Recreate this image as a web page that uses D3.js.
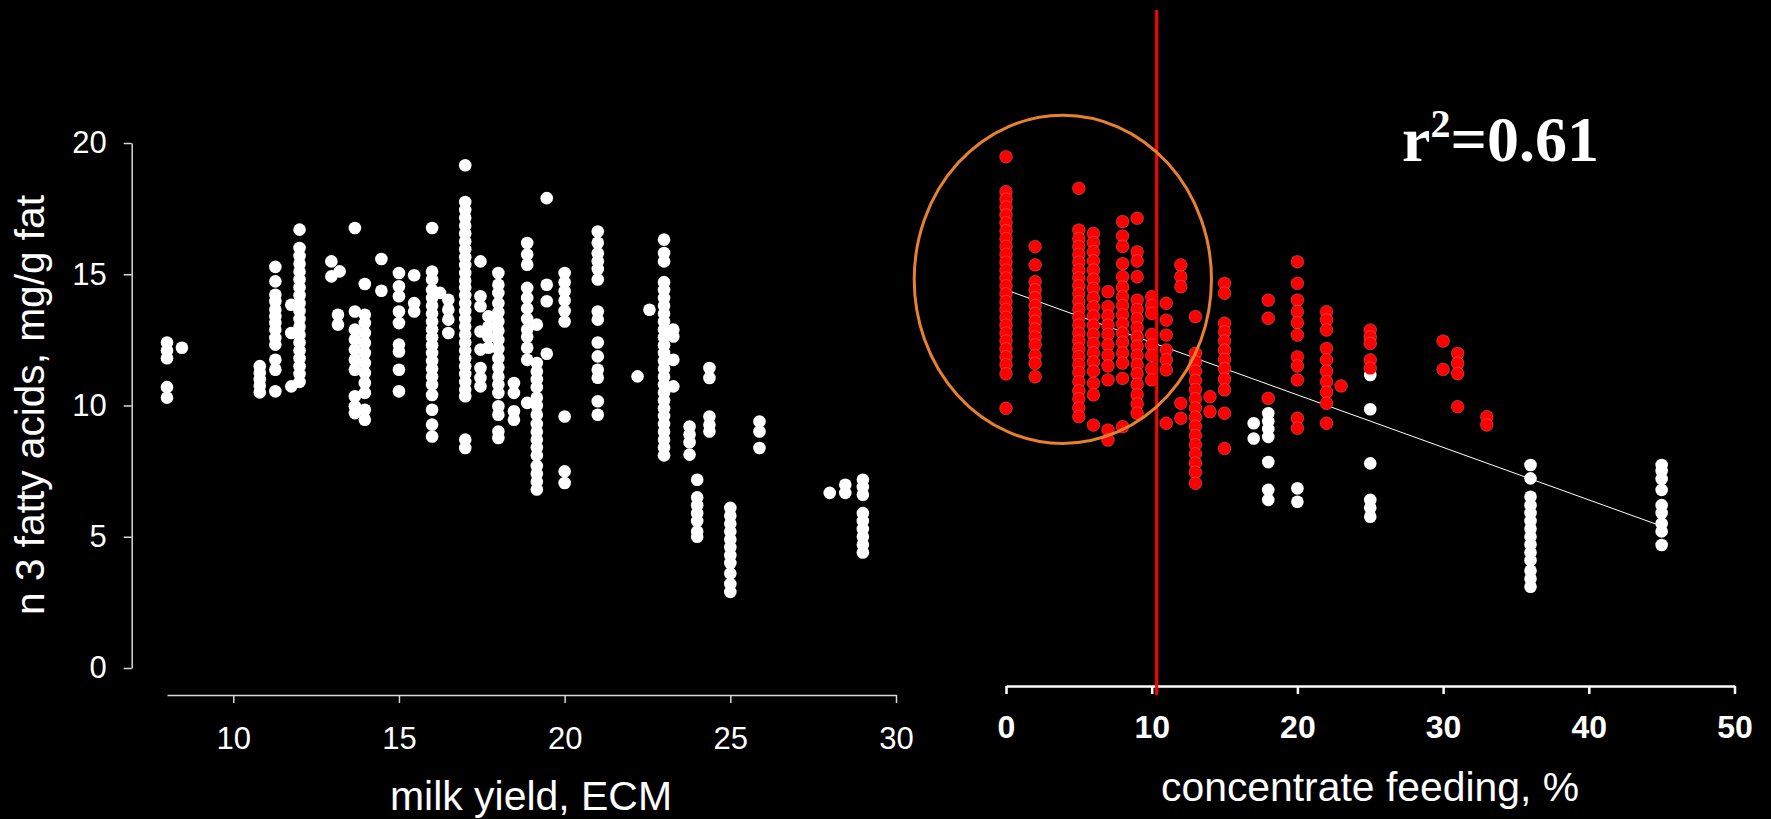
<!DOCTYPE html>
<html>
<head>
<meta charset="utf-8">
<script src="https://cdn.jsdelivr.net/npm/d3@7"></script>
<style>
  html, body { margin: 0; padding: 0; background: #000; }
  svg { display: block; }
</style>
</head>
<body>
<div class="chart"></div>
<script>
// ---- data ----
// left panel: n-3 fatty acids vs milk yield (ECM), one entry per vertical column of dots
var yieldCols = [8, 8.45, 10.8, 11.27, 11.75, 12, 12.96, 13.21, 13.16, 13.67, 13.97, 14.47, 15, 15.46,
  16, 16.24, 16.49, 17, 17.46, 17.7, 18, 18.47, 18.87, 19.16, 19.46, 20, 21, 22.2, 22.56, 23, 23.28,
  23.77, 24, 24.37, 25, 25.88, 28, 28.47, 29];
var yieldN3 = [
  [12.4, 12.1, 11.8, 10.7, 10.3],
  [12.2],
  [11.5, 11.25, 11.0, 10.75, 10.5],
  [15.28, 14.73, 14.22, 13.97, 13.65, 13.4, 13.14, 12.89, 12.57, 12.32, 11.74, 11.36, 10.54],
  [13.84, 12.76, 10.73],
  [16.7, 16.0, 15.7, 15.4, 15.1, 14.8, 14.5, 14.2, 13.9, 13.6, 13.3, 13.0, 12.7, 12.4, 12.1, 11.8, 11.5, 11.2, 10.9],
  [15.49, 14.92],
  [15.11],
  [13.46, 13.08],
  [16.76, 13.58, 12.89, 12.51, 12.13, 11.74, 11.36, 10.35, 9.97, 9.71],
  [14.63, 13.46, 13.14, 12.76, 12.38, 12.0, 11.62, 11.24, 10.86, 10.48, 9.84, 9.46],
  [15.58, 14.37],
  [15.05, 14.54, 14.16, 13.58, 13.14, 12.32, 12.06, 11.36, 10.54],
  [14.96, 13.9, 13.58],
  [16.76, 15.1, 14.8, 14.4, 14.1, 13.8, 13.5, 13.2, 12.9, 12.6, 12.3, 12.0, 11.7, 11.4, 11.1, 10.8, 10.4, 9.84, 9.27, 8.82],
  [14.29],
  [14.03, 13.65, 13.27, 12.76],
  [19.15, 17.75, 17.45, 17.15, 16.85, 16.55, 16.25, 15.95, 15.65, 15.35, 15.05, 14.75, 14.5, 14.2, 13.9, 13.6,
   13.3, 13.0, 12.7, 12.4, 12.1, 11.8, 11.5, 11.2, 10.9, 10.6, 10.35, 8.7, 8.38],
  [15.49, 14.16, 13.78, 12.82, 12.13, 11.43, 11.05, 10.73],
  [13.4, 13.0, 12.6, 12.2],
  [15.05, 14.6, 14.29, 13.9, 13.55, 13.2, 12.85, 12.5, 12.15, 11.8, 11.45, 11.1, 10.8, 10.48, 9.97, 9.65, 9.01, 8.76],
  [10.86, 10.48, 9.78, 9.46],
  [16.19, 15.75, 15.36, 14.48, 14.1, 13.7, 13.3, 12.9, 12.62, 12.2, 11.74, 10.1],
  [13.08, 11.62, 11.3, 11.0, 10.7, 10.3, 10.0, 9.65, 9.3, 9.0, 8.7, 8.4, 8.1, 7.7, 7.4, 7.1, 6.8],
  [17.9, 14.6, 13.97, 11.97],
  [15.05, 14.7, 14.35, 14.0, 13.6, 13.2, 9.58, 7.49, 7.05],
  [16.63, 16.2, 15.8, 15.5, 15.2, 14.8, 13.58, 13.27, 12.4, 11.87, 11.36, 11.06, 10.16, 9.65],
  [11.11],
  [13.65],
  [16.32, 15.81, 15.49, 14.7, 14.4, 14.1, 13.8, 13.5, 13.2, 12.9, 12.6, 12.3, 12.0, 11.7, 11.4, 11.1, 10.8,
   10.5, 10.2, 9.9, 9.6, 9.3, 9.0, 8.7, 8.4, 8.1],
  [12.89, 12.63, 11.74, 10.73],
  [9.2, 8.9, 8.6, 8.13],
  [7.17, 6.5, 6.2, 5.9, 5.6, 5.2, 5.0],
  [11.43, 11.05, 9.58, 9.27, 9.01],
  [6.1, 5.8, 5.5, 5.2, 4.9, 4.6, 4.3, 4.0, 3.6, 3.2, 2.9],
  [9.39, 9.01, 8.38],
  [6.67],
  [6.98, 6.67],
  [7.17, 6.9, 6.6, 5.9, 5.6, 5.3, 5.0, 4.7, 4.4]
];

// right panel: n-3 fatty acids vs concentrate feeding (%), red and white groups
var concRedCols = [0, 2, 5, 6, 7, 8, 9, 10, 11, 12, 13, 14, 15, 18, 20, 22, 23, 25, 30, 31, 33];
var concRedN3 = [
  [19.17, 17.84, 17.55, 17.25, 16.95, 16.65, 16.35, 16.05, 15.75, 15.45, 15.15, 14.85, 14.55, 14.25, 13.95,
   13.65, 13.35, 13.05, 12.75, 12.45, 12.15, 11.85, 11.55, 11.25, 10.9, 9.59],
  [15.75, 15.05, 14.41, 14.1, 13.8, 13.5, 13.2, 12.9, 12.6, 12.3, 12.0, 11.6, 11.3, 10.79],
  [17.97, 16.38, 16.05, 15.75, 15.45, 15.15, 14.85, 14.55, 14.25, 13.95, 13.65, 13.35, 13.05, 12.75, 12.45,
   12.15, 11.85, 11.55, 11.25, 10.95, 10.6, 10.25, 9.95, 9.6, 9.27],
  [16.25, 15.9, 15.55, 15.2, 14.85, 14.5, 14.15, 13.8, 13.45, 13.1, 12.75, 12.4, 12.05, 11.7, 11.35, 11.0, 10.54, 10.1, 8.95],
  [14.03, 13.46, 13.1, 12.75, 12.4, 12.0, 11.6, 11.2, 10.67, 8.76, 8.38],
  [16.7, 16.15, 15.75, 15.1, 14.6, 14.2, 13.84, 13.5, 13.15, 12.8, 12.45, 12.1, 11.7, 11.31, 10.73, 8.89],
  [16.83, 15.55, 15.2, 14.6, 13.71, 13.35, 13.0, 12.65, 12.3, 11.95, 11.6, 11.25, 10.9, 10.5, 10.1, 9.75, 9.4],
  [13.84, 13.5, 13.2, 12.4, 12.0, 11.6, 11.1, 10.67],
  [13.59, 12.95, 12.38, 11.81, 11.43, 11.05, 9.02],
  [15.05, 14.6, 14.22, 9.78, 9.21],
  [13.08, 11.68, 11.35, 11.0, 10.65, 10.3, 9.95, 9.6, 9.25, 8.9, 8.55, 8.2, 7.85, 7.5, 7.15, 6.73],
  [10.03, 9.46],
  [14.35, 13.97, 12.83, 12.5, 12.15, 11.8, 11.45, 11.1, 10.7, 10.29, 9.4, 8.06],
  [13.71, 13.02, 9.97],
  [15.17, 14.35, 13.71, 13.27, 12.85, 12.38, 11.55, 11.2, 10.67, 9.21, 8.83],
  [13.27, 12.95, 12.57, 11.87, 11.43, 11.0, 10.6, 10.2, 9.78, 9.02],
  [10.44],
  [12.57, 12.3, 12.06, 11.43, 11.11],
  [12.15, 11.07],
  [11.68, 11.3, 10.91, 9.65],
  [9.27, 8.95]
];
var concWhiteCols = [17, 18, 20, 25, 36, 45];
var concWhiteN3 = [
  [9.02, 8.44],
  [9.4, 9.1, 8.8, 8.5, 7.54, 6.48, 6.1],
  [6.54, 6.03],
  [10.86, 9.55, 7.49, 6.1, 5.8, 5.46],
  [7.43, 6.92, 6.22, 5.9, 5.6, 5.3, 5.0, 4.7, 4.4, 4.1, 3.8, 3.4, 3.1, 2.79],
  [7.43, 7.2, 6.9, 6.48, 5.9, 5.6, 5.2, 4.9, 4.38]
];

var yieldTicks = [10, 15, 20, 25, 30];
var n3Ticks = [0, 5, 10, 15, 20];
var concTicks = [0, 10, 20, 30, 40, 50];

var regressionCoef = [14.1, -0.2];   // intercept, slope
var regressionSpan = [0, 45];
var concCutoff = 10.34;
var highlightEllipse = [3.9, 14.5, 10.2, 6.25]; // cx, cy, rx, ry (data units)
var r2Text = ["r", "2", "=0.61"];

var yLabel = "n 3 fatty acids, mg/g fat";
var xLabelLeft = "milk yield, ECM";
var xLabelRight = "concentrate feeding, %";

// flatten column lists into points
function toPoints(cols, vals){
  var pts = [];
  cols.forEach(function(x, i){
    vals[i].forEach(function(y){ pts.push([x, y]); });
  });
  return pts;
}

var w = 1771, h = 819;

var svg = d3.select("div.chart")
  .append("svg")
  .attr("width", w)
  .attr("height", h)
  .style("background", "#000");

//scales
var xLeft = d3.scaleLinear().domain([8, 30]).range([167, 896]);
var yLeft = d3.scaleLinear().domain([0, 20]).range([668, 143]);
var xRight = d3.scaleLinear().domain([0, 50]).range([1006, 1734.5]);
var yRight = d3.scaleLinear().domain([0, 20]).range([660, 135]);

var sans = "'Liberation Sans', Arial, sans-serif";

//left y axis
var gy = svg.append("g")
  .attr("transform", "translate(131.7,0)")
  .call(d3.axisLeft(yLeft).tickValues(n3Ticks).tickSize(8).tickSizeOuter(0).tickPadding(17));

//left x axis
var gx = svg.append("g")
  .attr("transform", "translate(0,695)")
  .call(d3.axisBottom(xLeft).tickValues(yieldTicks).tickSize(8).tickSizeOuter(0).tickPadding(24));

[gy, gx].forEach(function(g){
  g.selectAll("path, line").attr("stroke", "#d9d9d9").attr("stroke-width", 1.5);
  g.selectAll("text")
    .attr("fill", "#fff")
    .style("font-family", sans)
    .style("font-size", "31px");
});

//right x axis
var gx2 = svg.append("g")
  .attr("transform", "translate(0,686)")
  .call(d3.axisBottom(xRight).tickValues(concTicks).tickSize(8).tickSizeOuter(0).tickPadding(21));
gx2.selectAll("path, line").attr("stroke", "#fff").attr("stroke-width", 2.5);
gx2.selectAll("text")
  .attr("fill", "#fff")
  .style("font-family", sans)
  .style("font-weight", "bold")
  .style("font-size", "32px");

//axis titles
svg.append("text")
  .attr("transform", "translate(44,405) rotate(-90)")
  .attr("text-anchor", "middle")
  .attr("fill", "#fff")
  .attr("textLength", 420)
  .attr("lengthAdjust", "spacingAndGlyphs")
  .style("font-family", sans)
  .style("font-size", "40px")
  .text(yLabel);

svg.append("text")
  .attr("x", 531)
  .attr("y", 810)
  .attr("text-anchor", "middle")
  .attr("fill", "#fff")
  .attr("textLength", 282)
  .attr("lengthAdjust", "spacingAndGlyphs")
  .style("font-family", sans)
  .style("font-size", "40px")
  .text(xLabelLeft);

svg.append("text")
  .attr("x", 1370)
  .attr("y", 801)
  .attr("text-anchor", "middle")
  .attr("fill", "#fff")
  .attr("textLength", 418)
  .attr("lengthAdjust", "spacingAndGlyphs")
  .style("font-family", sans)
  .style("font-size", "40px")
  .text(xLabelRight);

//left dots
svg.append("g").selectAll("circle")
  .data(toPoints(yieldCols, yieldN3))
  .enter()
  .append("circle")
    .attr("cx", d => xLeft(d[0]))
    .attr("cy", d => yLeft(d[1]))
    .attr("r", 6.3)
    .attr("fill", "#fff");

//regression line (under the dots)
var line = d3.line()
  .x(d => xRight(d))
  .y(d => yRight(regressionCoef[0] + regressionCoef[1] * d));

svg.append("path")
  .datum(regressionSpan)
  .attr("d", line)
  .attr("fill", "none")
  .attr("stroke", "#fff")
  .attr("stroke-width", 1);

//right dots, white first then red
svg.append("g").selectAll("circle")
  .data(toPoints(concWhiteCols, concWhiteN3))
  .enter()
  .append("circle")
    .attr("cx", d => xRight(d[0]))
    .attr("cy", d => yRight(d[1]))
    .attr("r", 6.3)
    .attr("fill", "#fff");

svg.append("g").selectAll("circle")
  .data(toPoints(concRedCols, concRedN3))
  .enter()
  .append("circle")
    .attr("cx", d => xRight(d[0]))
    .attr("cy", d => yRight(d[1]))
    .attr("r", 6.4)
    .attr("fill", "#ff0000")
    .attr("stroke", "#fff")
    .attr("stroke-opacity", 0.35)
    .attr("stroke-width", 0.6);

//cut-off line
svg.append("line")
  .attr("x1", xRight(concCutoff))
  .attr("x2", xRight(concCutoff))
  .attr("y1", 10)
  .attr("y2", 695)
  .attr("stroke", "#ff0000")
  .attr("stroke-width", 3);

//highlight ellipse
svg.append("ellipse")
  .attr("cx", xRight(highlightEllipse[0]))
  .attr("cy", yRight(highlightEllipse[1]))
  .attr("rx", xRight(highlightEllipse[2]) - xRight(0))
  .attr("ry", yRight(0) - yRight(highlightEllipse[3]))
  .attr("fill", "none")
  .attr("stroke", "#e8812f")
  .attr("stroke-width", 3);

//r squared
var r2 = svg.append("text")
  .attr("x", 1402)
  .attr("y", 161)
  .attr("fill", "#fff")
  .style("font-family", "'Liberation Serif', 'Times New Roman', serif")
  .style("font-weight", "bold")
  .style("font-size", "64px");
r2.append("tspan").text(r2Text[0]);
r2.append("tspan").attr("dy", -24).style("font-size", "40px").text(r2Text[1]);
r2.append("tspan").attr("dy", 24).text(r2Text[2]);
</script>
</body>
</html>
